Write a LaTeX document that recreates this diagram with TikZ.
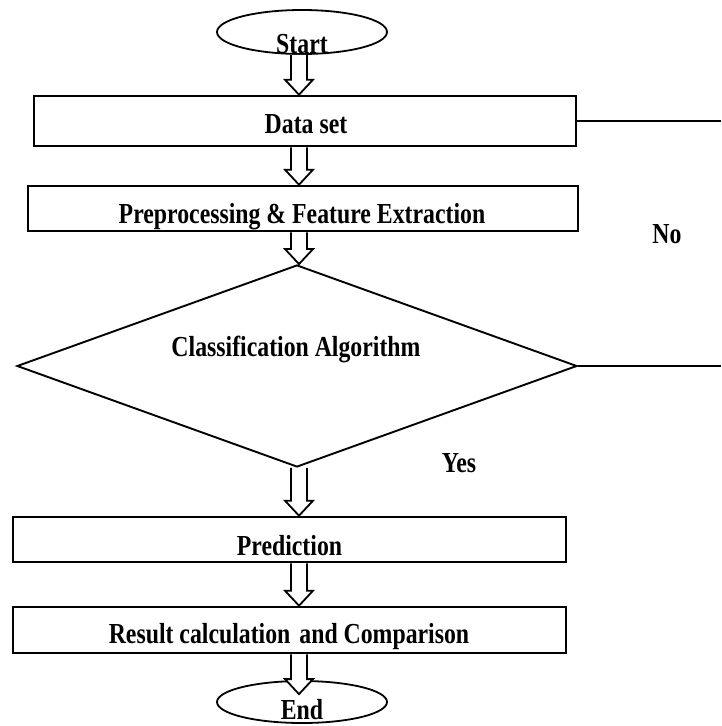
\documentclass[tikz,border=0pt]{standalone}
\usepackage{fontspec}
\setmainfont{Liberation Serif}[FakeStretch=0.82]
\usetikzlibrary{shapes.geometric,calc}

\tikzset{
  box/.style={draw, line width=2.6pt, rectangle, inner sep=0pt},
  term/.style={draw, line width=1.8pt, ellipse, inner sep=0pt,
               minimum width=170pt, minimum height=44pt},
  decision/.style={draw, line width=1.9pt, diamond, inner sep=0pt,
                   minimum width=560pt, minimum height=202pt},
  lbl/.style={font=\fontsize{29}{34}\selectfont\bfseries, inner sep=0pt, anchor=base},
  branch/.style={line width=1.9pt},
}

% hollow block arrow pointing down from #1 to #2
\newcommand{\hollowdown}[2]{%
  \path let \p1=(#1), \p2=(#2) in
    [draw, fill=white, line width=1.8pt, line join=miter]
    (\x1-8pt,\y1) -- (\x1-8pt,\y2+15pt) -- (\x1-14pt,\y2+15pt) -- (\x1,\y2)
    -- (\x1+14pt,\y2+15pt) -- (\x1+8pt,\y2+15pt) -- (\x1+8pt,\y1);}

\begin{document}
\begin{tikzpicture}[x=1pt, y=-1pt]
  \useasboundingbox (0,0) rectangle (721,726);

  \coordinate (axis) at (299,0);
  \coordinate (rim1) at (721,121);
  \coordinate (rim2) at (721,366);

  % terminals
  \node[term] (start) at (302,32) {};
  \node[term, minimum height=42pt] (finish) at (302,702) {};

  % process boxes
  \node[box, minimum width=542pt, minimum height=50pt] (data) at (305,121) {};
  \node[box, minimum width=550pt, minimum height=45pt] (prep) at (303,208.5) {};
  \node[decision] (cls) at (297,366) {};
  \node[box, minimum width=553pt, minimum height=45pt] (pred) at (289.5,539.5) {};
  \node[box, minimum width=553pt, minimum height=46pt] (res) at (289.5,630) {};

  % branch lines leaving to the right
  \draw[branch] (data.east) -- (rim1);
  \draw[branch] (cls.east) -- (rim2);

  % flow arrows
  \hollowdown{axis |- start.south}{axis |- data.north}
  \hollowdown{axis |- data.south}{axis |- prep.north}
  \hollowdown{axis |- prep.south}{axis |- cls.north}
  \hollowdown{axis |- cls.south}{axis |- pred.north}
  \hollowdown{axis |- pred.south}{axis |- res.north}
  \hollowdown{axis |- res.south}{$(axis |- finish.north)+(0,14)$}

  % labels
  \node[lbl] (tstart) at (302,53) {Start};
  \node[lbl] (tdata) at (306,133) {Data set};
  \node[lbl] (tprep) at (302,223) {Preprocessing \& Feature Extraction};
  \node[lbl] (tcls) at (296,356) {Classification Algorithm};
  \node[lbl] (tpred) at (289.5,555) {Prediction};
  \node[lbl] (tres) at (289,643) {Result calculation\hspace{3pt} and Comparison};
  \node[lbl] (tend) at (302,719) {End};
  \node[lbl] (tno) at (667,243) {No};
  \node[lbl] (tyes) at (459,472) {Yes};
\end{tikzpicture}
\end{document}
